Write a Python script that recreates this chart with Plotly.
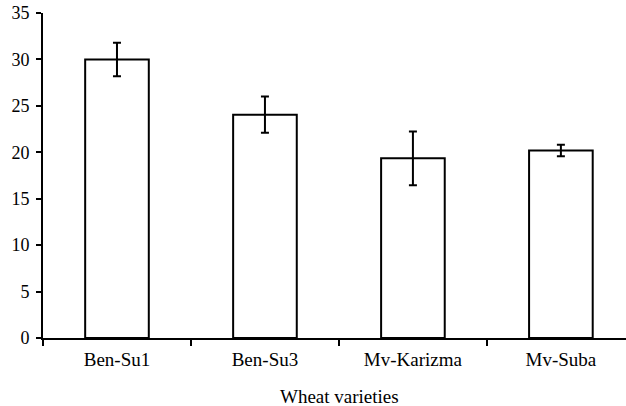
import plotly.graph_objects as go

varieties = ["Ben-Su1", "Ben-Su3", "Mv-Karizma", "Mv-Suba"]
values = [30.0, 24.05, 19.35, 20.2]
errors = [1.8, 1.95, 2.9, 0.62]
y_ticks = [0, 5, 10, 15, 20, 25, 30, 35]
x_title = "Wheat varieties"

font = dict(family="Liberation Serif, Times New Roman, serif", size=18, color="black")
xfont = dict(font, size=19)

fig = go.Figure(go.Bar(
    x=varieties, y=values,
    width=0.43,
    marker=dict(color="white", line=dict(color="black", width=2)),
    error_y=dict(type="data", array=errors, visible=True, color="black", thickness=2, width=4),
))

fig.update_layout(
    width=626, height=406,
    margin=dict(l=43, r=0, t=13, b=68, autoexpand=False),
    plot_bgcolor="white", paper_bgcolor="white",
    font=font,
    showlegend=False,
    annotations=[dict(text=x_title, xref="paper", yref="paper", x=0.508, y=-0.1815,
                      xanchor="center", yanchor="middle", showarrow=False, font=xfont)],
)
fig.update_xaxes(
    type="category", range=[-0.5, 3.44],
    showline=True, linecolor="black", linewidth=2,
    ticks="outside", tickson="boundaries", ticklen=6, tickwidth=2, tickcolor="black",
    showgrid=False, zeroline=False, automargin=False,
    tickfont=xfont, ticklabelstandoff=3, ticklabeloverflow="allow",
)
fig.update_yaxes(
    range=[0, 35], tickvals=y_ticks,
    showline=True, linecolor="black", linewidth=2,
    ticks="outside", ticklen=5, tickwidth=2, tickcolor="black",
    showgrid=False, zeroline=False, automargin=False,
    tickfont=font, ticklabelstandoff=3, ticklabeloverflow="allow",
)

fig.write_html("out.html", config={"displayModeBar": False},
               post_script="document.body.style.margin='0';")
